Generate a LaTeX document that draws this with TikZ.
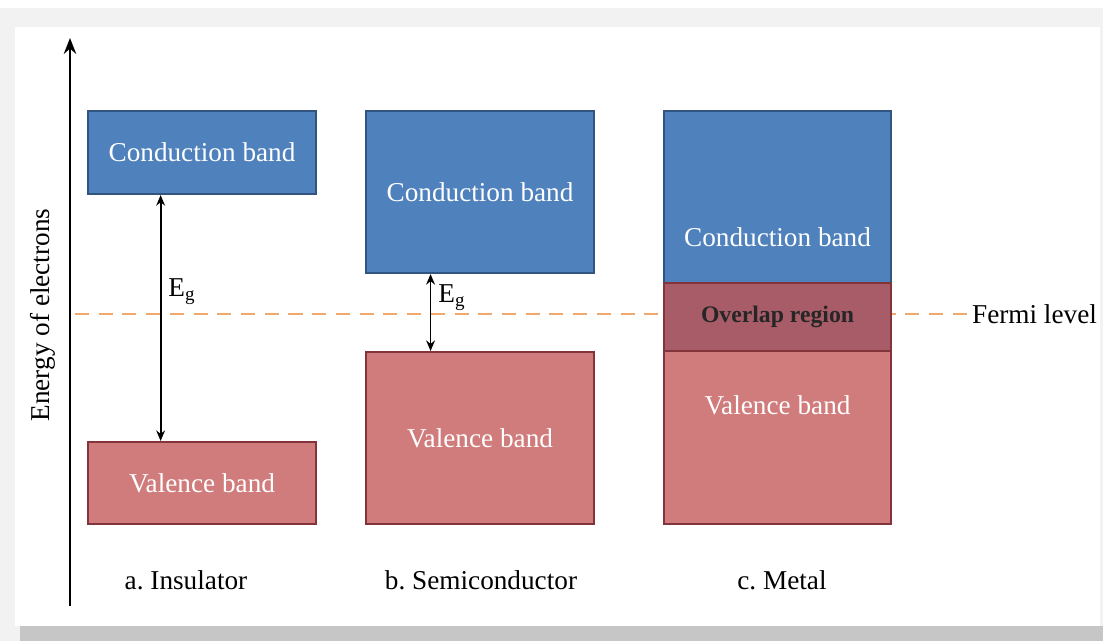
\documentclass[tikz,border=0pt]{standalone}
\usepackage{fontspec}
\setmainfont{Liberation Serif}
\usetikzlibrary{arrows.meta,calc}
\definecolor{cbblue}{RGB}{79,129,189}
\definecolor{cbedge}{RGB}{50,84,128}
\definecolor{vbred}{RGB}{208,124,124}
\definecolor{vbedge}{RGB}{130,52,58}
\definecolor{ovred}{RGB}{168,92,104}
\definecolor{fermiorange}{RGB}{240,168,108}
\frenchspacing

\begin{document}
\begin{tikzpicture}[x=0.02cm, y=-0.02cm, >=Stealth, font=\fontsize{15.5}{18}\selectfont,
  cband/.style={draw=cbedge, line width=1.2pt, fill=cbblue, text=white, anchor=north west, inner sep=0pt},
  vband/.style={draw=vbedge, line width=1.2pt, fill=vbred, text=white, anchor=north west, inner sep=0pt},
  gaparrow/.style={{Stealth[length=6pt, width=5pt]}-{Stealth[length=6pt, width=5pt]}, line width=1pt, black}]

% Card with shadow
\useasboundingbox (0,0) rectangle (1103,641);
\fill[gray!10] (0,8) rectangle (1103,641);
\fill[gray!45] (20,626) rectangle (1103,641);
\fill[white] (15,27) rectangle (1100,626);

% Energy axis
\coordinate (axbot) at (70,606);
\coordinate (axtop) at (70,38);
\draw[-{Stealth[length=9pt, width=7pt]}, line width=1.4pt] (axbot) -- (axtop);
\node[rotate=90] (axlabel) at (43,315) {Energy of electrons};

% Fermi level
\coordinate (fstart) at (75,314);
\node[anchor=west, inner sep=1pt] (fermi) at (970,314) {Fermi level};
\draw[fermiorange, line width=1.3pt, dash pattern=on 8pt off 5.5pt] (fstart) -- (fermi.west);

% a. Insulator
\node[cband, minimum width=4.56cm, minimum height=1.66cm] (icb) at (87,110) {Conduction band};
\node[vband, minimum width=4.56cm, minimum height=1.64cm] (ivb) at (87,441) {Valence band};
\draw[gaparrow] ($(icb.south west)!0.32!(icb.south east)$) -- ($(ivb.north west)!0.32!(ivb.north east)$);
\node (ieg) at (182,292) {E\textsubscript{g}};

% b. Semiconductor
\node[cband, minimum width=4.56cm, minimum height=3.24cm] (scb) at (365,110) {Conduction band};
\node[vband, minimum width=4.56cm, minimum height=3.44cm] (svb) at (365,351) {Valence band};
\draw[gaparrow] ($(scb.south west)!0.285!(scb.south east)$) -- ($(svb.north west)!0.285!(svb.north east)$);
\node (seg) at (452,298) {E\textsubscript{g}};

% c. Metal
\node[cband, minimum width=4.54cm, minimum height=3.44cm] (mcb) at (663,110) {};
\node[vband, minimum width=4.54cm, minimum height=3.46cm] (mvb) at (663,350) {};
\node[vband, fill=ovred, minimum width=4.54cm, minimum height=1.36cm, text=black!85, font=\fontsize{13.5}{16}\selectfont\bfseries] (mov) at (663,282) {Overlap region};
\node[text=white] (mcbtext) at ($(mcb.south)+(0,-47)$) {Conduction band};
\node[text=white] (mvbtext) at ($(mvb.north)+(0,55)$) {Valence band};

% Captions
\node (capa) at (186,580) {a. Insulator};
\node (capb) at (481,580) {b. Semiconductor};
\node (capc) at (782,580) {c. Metal};

\end{tikzpicture}
\end{document}
